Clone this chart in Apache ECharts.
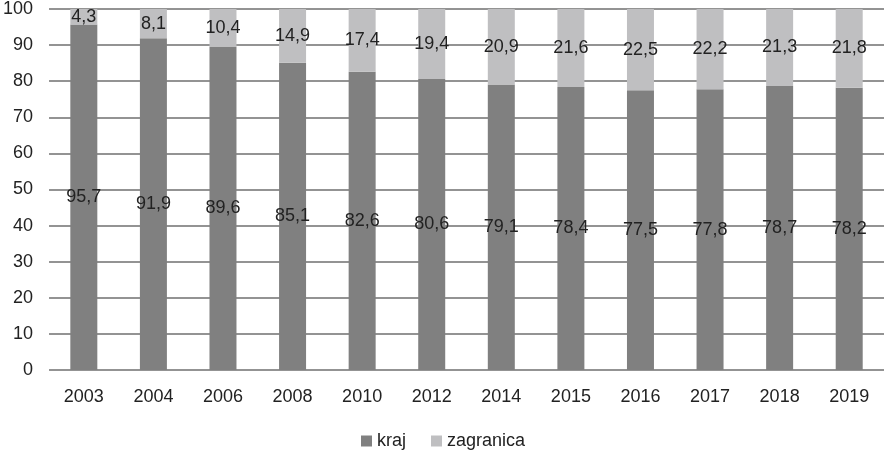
<!DOCTYPE html>
<html><head><meta charset="utf-8">
<script src="https://cdn.jsdelivr.net/npm/echarts@6/dist/echarts.min.js"></script>
<style>html,body{margin:0;padding:0;background:#fff}#c{width:886px;height:456px}</style>
</head><body><div id="c"></div>
<script>
const categories = ['2003','2004','2006','2008','2010','2012','2014','2015','2016','2017','2018','2019'];
const kraj = [95.7,91.9,89.6,85.1,82.6,80.6,79.1,78.4,77.5,77.8,78.7,78.2];
const zagranica = [4.3,8.1,10.4,14.9,17.4,19.4,20.9,21.6,22.5,22.2,21.3,21.8];
const yTicks = {min:0, max:100, interval:10};
const FONT = '"Liberation Sans Narrow", "Liberation Sans", Arial, sans-serif';
const fmt = p => String(p.value).replace('.', ',');
const chart = echarts.init(document.getElementById('c'), null, {renderer:'canvas'});
chart.setOption({
  animation:false,
  textStyle:{fontFamily:FONT},
  grid:{left:47,right:2,top:5,bottom:86,containLabel:false},
  legend:{bottom:1,left:'center',itemWidth:11,itemHeight:11,itemGap:25,icon:'rect',
    textStyle:{fontFamily:FONT,fontSize:18,color:'#222'},data:['kraj','zagranica']},
  xAxis:{type:'category',data:categories,axisLine:{show:false},axisTick:{show:false},
    axisLabel:{fontFamily:FONT,fontSize:18,color:'#222',margin:18}},
  yAxis:{type:'value',min:yTicks.min,max:yTicks.max,interval:yTicks.interval,
    axisLine:{show:false},axisTick:{show:false},
    axisLabel:{fontFamily:FONT,fontSize:18,color:'#222',margin:16},
    splitLine:{lineStyle:{color:'#939393',width:2}}},
  series:[
    {name:'kraj',type:'bar',stack:'s',data:kraj,barWidth:27,itemStyle:{color:'#808080'},
     label:{show:true,position:'inside',formatter:fmt,fontFamily:FONT,fontSize:18,color:'#222'}},
    {name:'zagranica',type:'bar',stack:'s',data:zagranica,barWidth:27,itemStyle:{color:'#bfbfc1'},
     label:{show:true,position:'inside',formatter:fmt,fontFamily:FONT,fontSize:18,color:'#222'}}
  ]
});
</script></body></html>
